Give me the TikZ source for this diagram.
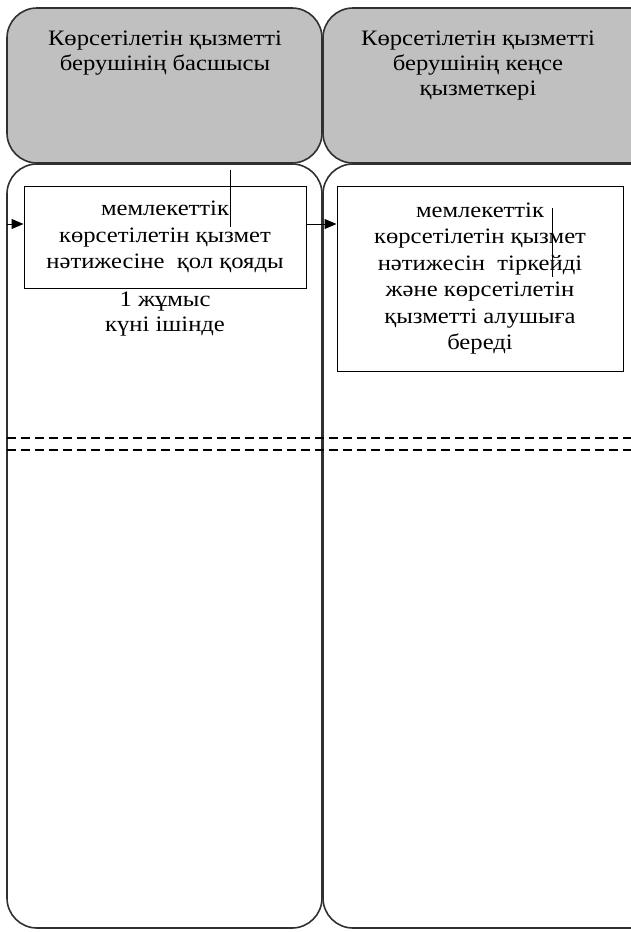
\documentclass[tikz,border=0pt]{standalone}
\usepackage{fontspec}
\setmainfont{Liberation Serif}[FakeStretch=1.12]
\usetikzlibrary{arrows.meta}
\definecolor{lanegray}{HTML}{C0C0C0}
\definecolor{edgegray}{HTML}{303030}
\tikzset{
  lanebox/.style={draw=edgegray, line width=1.6pt, rounded corners=30pt},
  headbox/.style={lanebox, fill=lanegray},
  headtext/.style={anchor=north, align=center, font=\fontsize{22}{25}\selectfont, inner sep=0pt},
  procbox/.style={draw=black, line width=1pt, align=center, font=\fontsize{22}{26.5}\selectfont, inner sep=0pt},
  plaintext/.style={align=center, font=\fontsize{22}{25}\selectfont, inner sep=0pt},
  flow/.style={draw=black, line width=1pt, -{Triangle[length=12pt,width=10pt]}},
  stray/.style={draw=black, line width=1pt},
  sepline/.style={draw=black, line width=1.3pt, dash pattern=on 9pt off 5pt}
}
\begin{document}
\begin{tikzpicture}[x=1pt,y=-1pt]
\useasboundingbox (0,0) rectangle (631,932);
\clip (0,0) rectangle (631,932);
% header lanes
\draw[headbox] (7,8) rectangle (322,163);
\draw[headbox] (323,8) rectangle (660,163);
\node[headtext] (h1) at (165,31) {Көрсетілетін қызметті\\берушінің басшысы};
\node[headtext] (h2) at (478,31) {Көрсетілетін қызметті\\берушінің кеңсе\\қызметкері};
% body lanes
\draw[lanebox] (7,164) rectangle (322,928);
\draw[lanebox] (323,164) rectangle (660,928);
% separators
\draw[sepline] (7,438) -- (631,438);
\draw[sepline] (7,450) -- (631,450);
% process boxes
\node[procbox, minimum width=282pt, minimum height=102pt] (p1) at (165,237)
  {мемлекеттік\\көрсетілетін қызмет\\нәтижесіне\ \ қол қояды};
\node[procbox, minimum width=286pt, minimum height=185pt] (p2) at (480,278.5)
  {мемлекеттік\\көрсетілетін қызмет\\нәтижесін\ \ тіркейді\\және көрсетілетін\\қызметті алушыға\\береді};
\node[plaintext] (t1) at (165,314) {1 жұмыс\\күні ішінде};
% connectors
\coordinate (in1) at (7,224);
\draw[flow] (in1) -- (p1.west |- in1);
\draw[flow] (p1.east |- in1) -- (p2.west |- in1);
% stray vertical strokes
\coordinate (s1a) at (230,170);
\coordinate (s1b) at (230,227);
\draw[stray] (s1a) -- (s1b);
\coordinate (s2a) at (552,208);
\coordinate (s2b) at (552,277);
\draw[stray] (s2a) -- (s2b);
\end{tikzpicture}
\end{document}
